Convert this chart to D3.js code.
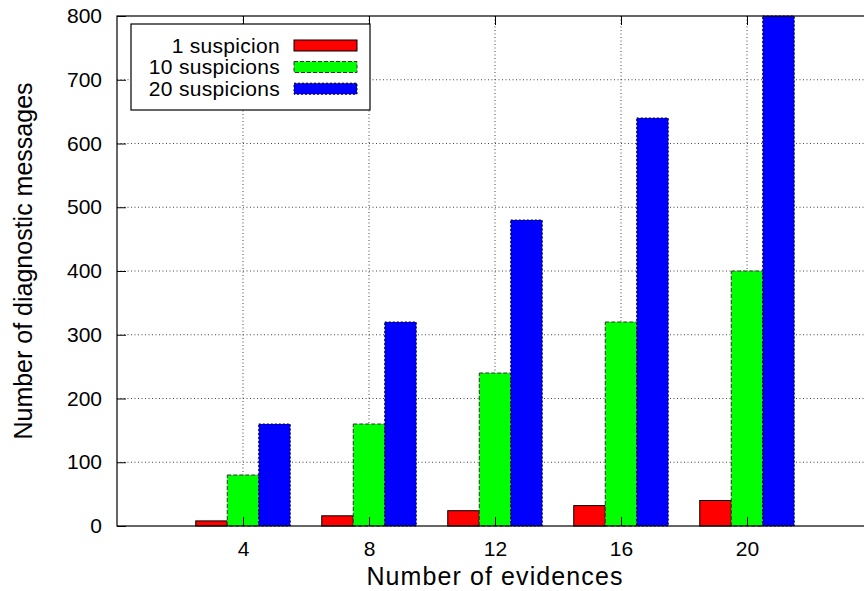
<!DOCTYPE html>
<html><head><meta charset="utf-8">
<script src="https://cdn.jsdelivr.net/npm/d3@7"></script>
<style>html,body{margin:0;padding:0;background:#fff;} svg{display:block;font-family:"Liberation Sans",Arial,Helvetica,sans-serif;}</style>
</head><body>
<svg id="c" width="864" height="591"></svg>
<script>
const categories = [4, 8, 12, 16, 20];
const seriesNames = ["1 suspicion", "10 suspicions", "20 suspicions"];
const oneSuspicion = [8, 16, 24, 32, 40];
const tenSuspicions = [80, 160, 240, 320, 400];
const twentySuspicions = [160, 320, 480, 640, 800];
const yTicks = [0, 100, 200, 300, 400, 500, 600, 700, 800];
const xTicks = [4, 8, 12, 16, 20];
const seriesValues = [oneSuspicion, tenSuspicions, twentySuspicions];
const fills = ["#ff0000", "#00ff00", "#0000ff"];
const strokes = ["#000", "#333", "#000"];
const dashes = [null, "4,2", "2,2"];

const svg = d3.select("#c");
const L = 117, R = 873, T = 16, B = 526;
const x = d3.scaleLinear().domain([0, 24]).range([L, R]);
const y = d3.scaleLinear().domain([0, 800]).range([B, T]);

// gridlines
const grid = svg.append("g");
grid.selectAll("line.v").data(xTicks).join("line")
  .attr("x1", d => x(d)).attr("x2", d => x(d)).attr("y1", T).attr("y2", B)
  .attr("stroke", "#444").attr("stroke-width", 1).attr("stroke-dasharray", "1,2.5");
grid.selectAll("line.h").data(yTicks.slice(1, -1)).join("line")
  .attr("x1", L).attr("x2", R).attr("y1", d => y(d)).attr("y2", d => y(d))
  .attr("stroke", "#444").attr("stroke-width", 1).attr("stroke-dasharray", "1,2.5");

// bars
seriesValues.forEach((vals, si) => {
  svg.append("g").selectAll("rect").data(vals).join("rect")
    .attr("x", (d, i) => x(categories[i] + si - 1.5))
    .attr("width", (d, i) => x(categories[i] + si - 0.5) - x(categories[i] + si - 1.5))
    .attr("y", d => y(d))
    .attr("height", d => y(0) - y(d))
    .attr("fill", fills[si])
    .attr("stroke", strokes[si]).attr("stroke-width", 1)
    .attr("stroke-dasharray", dashes[si]);
});

// axes
const ya = svg.append("g").attr("transform", `translate(${L},0)`)
  .call(d3.axisLeft(y).tickValues(yTicks).tickSize(-9).tickPadding(15).tickFormat(d3.format("d")));
ya.select(".domain").remove();
ya.selectAll("text").attr("font-size", 21).attr("font-family", "Liberation Sans, Arial, sans-serif").attr("fill", "#000");
const xa = svg.append("g").attr("transform", `translate(0,${B})`)
  .call(d3.axisBottom(x).tickValues(xTicks).tickSize(-9).tickPadding(15).tickFormat(d3.format("d")));
xa.select(".domain").remove();
xa.selectAll("text").attr("font-size", 21).attr("font-family", "Liberation Sans, Arial, sans-serif").attr("fill", "#000");
const xt = svg.append("g").attr("transform", `translate(0,${T})`)
  .call(d3.axisTop(x).tickValues(xTicks).tickSize(-9).tickFormat(""));
xt.select(".domain").remove();

// frame
svg.append("rect").attr("x", L).attr("y", T).attr("width", R - L).attr("height", B - T)
  .attr("fill", "none").attr("stroke", "#000").attr("stroke-width", 1.2);

// legend
const lg = svg.append("g");
lg.append("rect").attr("x", 131).attr("y", 24).attr("width", 239).attr("height", 86)
  .attr("fill", "#fff").attr("stroke", "#000").attr("stroke-width", 1.2);
const rowsY = [45.5, 67, 88.7];
seriesNames.forEach((name, si) => {
  lg.append("text").attr("x", 280).attr("y", rowsY[si]).attr("dy", "0.35em")
    .attr("text-anchor", "end").attr("font-size", 21).attr("letter-spacing", 0.3).attr("fill", "#000").text(name);
  lg.append("rect").attr("x", 294).attr("y", rowsY[si] - 5.5).attr("width", 63).attr("height", 11)
    .attr("fill", fills[si]).attr("stroke", strokes[si]).attr("stroke-width", 1)
    .attr("stroke-dasharray", dashes[si]);
});

// axis titles
svg.append("text").attr("x", (L + R) / 2).attr("y", 585).attr("text-anchor", "middle")
  .attr("font-size", 25).attr("letter-spacing", 1.1).attr("fill", "#000").text("Number of evidences");
svg.append("text").attr("transform", "translate(32,261) rotate(-90)").attr("text-anchor", "middle")
  .attr("font-size", 25).attr("fill", "#000").text("Number of diagnostic messages");
</script>
</body></html>
